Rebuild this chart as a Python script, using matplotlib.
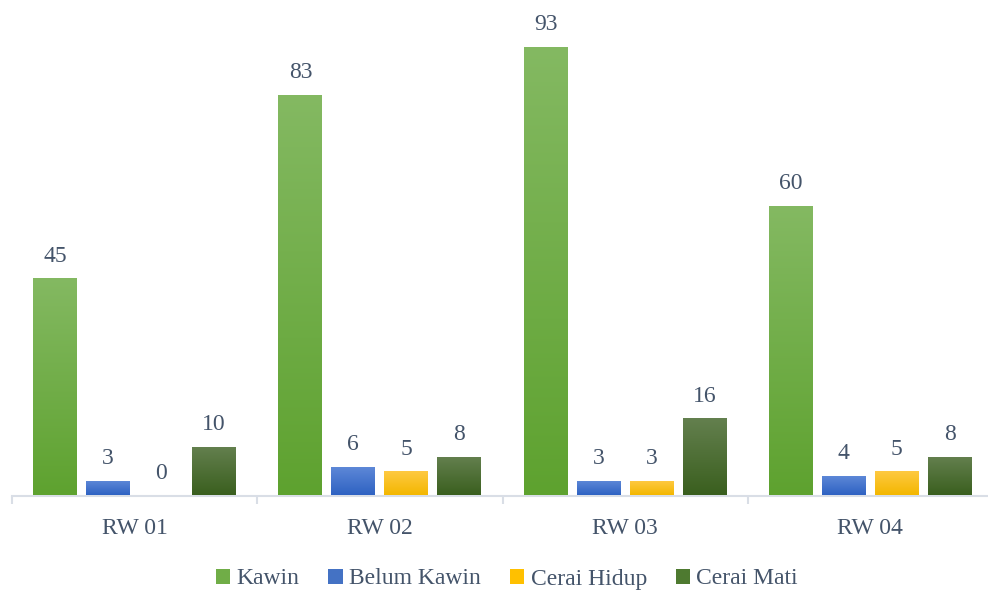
import matplotlib
matplotlib.use("Agg")
import matplotlib.pyplot as plt
import numpy as np
from matplotlib.patches import Patch
from matplotlib.colors import LinearSegmentedColormap

categories = ["RW 01", "RW 02", "RW 03", "RW 04"]
series_names = ["Kawin", "Belum Kawin", "Cerai Hidup", "Cerai Mati"]
kawin = [45, 83, 93, 60]
belum_kawin = [3, 6, 3, 4]
cerai_hidup = [0, 5, 3, 5]
cerai_mati = [10, 8, 16, 8]
values = [kawin, belum_kawin, cerai_hidup, cerai_mati]

# (top colour, bottom colour) gradient per series
grads = [("#84B962", "#5EA22F"),
         ("#5F89D8", "#2E62C2"),
         ("#FFCA45", "#F3B700"),
         ("#64804F", "#3A5F1E")]
mids = ["#70AD47", "#4472C4", "#FFC000", "#4E7A30"]

text_color = "#44546A"
axis_color = "#D9DEE6"
font = "Liberation Serif"
fs = 17

fig = plt.figure(figsize=(9.88, 5.90), dpi=100)
ax = fig.add_axes([12/988, (590-495.5)/590, 981/988, (495.5-10)/590])

n = len(categories)
x = np.arange(n)
step = 53/245.25
width = 44/245.25

for i, (vals, (ct, cb)) in enumerate(zip(values, grads)):
    cmap = LinearSegmentedColormap.from_list(f"g{i}", [cb, ct])
    offs = (i - 1.5) * step
    bars = ax.bar(x + offs, vals, width, color=mids[i], linewidth=0, zorder=2)
    for b, v in zip(bars, vals):
        if v > 0:
            grad = np.linspace(0, 1, 256).reshape(-1, 1)
            im = ax.imshow(grad, extent=[b.get_x(), b.get_x()+b.get_width(), 0, v],
                           origin="lower", aspect="auto", cmap=cmap, zorder=3)
            im.set_clip_path(b)
        ax.annotate(str(v), (b.get_x()+b.get_width()/2, v), xytext=(0, 8.5),
                    textcoords="offset points", ha="center", va="bottom",
                    fontsize=fs, color=text_color, family=font)

ax.set_xlim(-0.5, n - 0.5)
ax.set_ylim(0, 485.5/(448.5/93))

for s in ["top", "left", "right"]:
    ax.spines[s].set_visible(False)
ax.spines["bottom"].set_color(axis_color)
ax.spines["bottom"].set_linewidth(1.5)
ax.set_yticks([])
ax.set_xticks(x)
ax.set_xticklabels(categories, fontsize=fs, color=text_color, family=font)
ax.tick_params(axis="x", which="major", length=0, pad=16)
ax.set_xticks(np.arange(-0.5, n, 1.0), minor=True)
ax.tick_params(axis="x", which="minor", length=6, width=1.5, color=axis_color)

handles = [Patch(facecolor=c, edgecolor="none") for c in mids]
leg = fig.legend(handles, series_names, loc="center", bbox_to_anchor=(507/988, 1 - 579/590),
                 ncol=4, frameon=False, prop={"family": font, "size": fs},
                 handlelength=0.6, handleheight=0.6, handletextpad=0.28, columnspacing=1.22)
for t in leg.get_texts():
    t.set_color(text_color)

fig.savefig("out.png", dpi=100)
